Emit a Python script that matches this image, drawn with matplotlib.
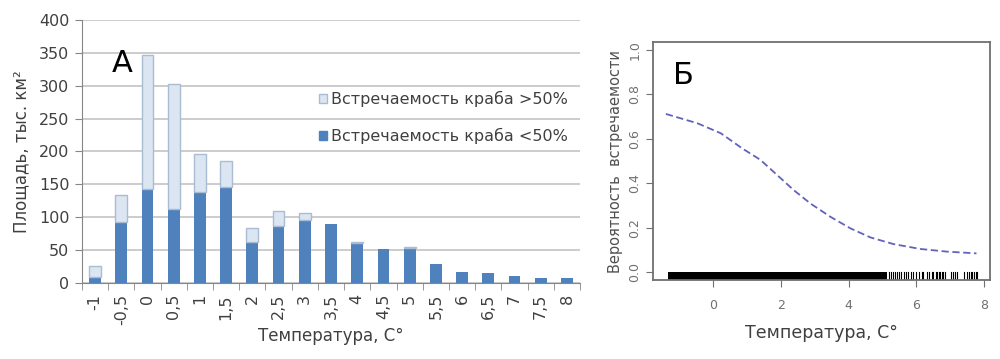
import numpy as np
import matplotlib
matplotlib.use("Agg")
import matplotlib.pyplot as plt
from matplotlib.patches import Patch


# --- panel A: area by temperature, stacked bars ---
temp_labels = ['-1', '-0,5', '0', '0,5', '1', '1,5', '2', '2,5', '3', '3,5',
               '4', '4,5', '5', '5,5', '6', '6,5', '7', '7,5', '8']
area_low = [9, 92, 143, 113, 139, 146, 63, 87, 96, 90,
            60, 52, 53, 29, 17, 15, 11, 7, 8]        # встречаемость < 50%
area_total = [25, 134, 347, 303, 196, 185, 84, 110, 107, 90,
              62, 52, 55, 29, 17, 15, 11, 7, 8]      # обе категории

# --- panel Б: probability curve + rug ---
curve_t = [-1.39, -0.46, 0.23, 0.86, 1.40, 1.89, 2.38, 2.87, 3.46, 4.05,
           4.64, 5.32, 6.11, 6.89, 7.77]
curve_p = [0.712, 0.670, 0.625, 0.557, 0.505, 0.437, 0.369, 0.309, 0.249, 0.197,
           0.156, 0.126, 0.104, 0.092, 0.084]
rug_dense = (-1.32, 5.14)   # сплошная полоса наблюдений
rug_sparse = [5.2, 5.25, 5.3, 5.36, 5.42, 5.5, 5.55, 5.62, 5.7, 5.75, 5.85, 5.9,
              6.0, 6.08, 6.15, 6.2, 6.3, 6.36, 6.45, 6.5, 6.58, 6.62, 6.66, 6.7,
              6.74, 6.78, 6.84, 7.02, 7.08, 7.15, 7.2, 7.4, 7.48, 7.55, 7.6,
              7.65, 7.7, 7.75, 7.8]

dark = '#4F81BD'
light = '#DCE6F2'
light_edge = '#A9BCD3'
axis_gray = '#868686'
text_gray = '#404040'

fig = plt.figure(figsize=(10, 3.59), dpi=100)

# ---------------- A ----------------
ax = fig.add_axes([0.082, 0.212, 0.498, 0.732])
ind = np.arange(len(temp_labels))
upper = [t - l for t, l in zip(area_total, area_low)]
w = 0.45
ax.bar(ind, area_low, w, color=dark, zorder=3)
# no outline on empty upper segments
edges = [light_edge if u > 0 else 'none' for u in upper]
ax.bar(ind, upper, w, bottom=area_low, color=light, edgecolor=edges,
       linewidth=1.0, zorder=3)

ax.set_xlim(-0.5, len(temp_labels) - 0.5)
ax.set_ylim(0, 400)
ax.set_yticks(range(0, 401, 50))
ax.yaxis.grid(True, color='#C4C4C4', linewidth=1.2, zorder=0)
ax.set_axisbelow(True)
for s in ['top', 'right']:
    ax.spines[s].set_visible(False)
ax.spines['left'].set_color(axis_gray)
ax.spines['bottom'].set_color(axis_gray)
ax.set_xticks(ind)
ax.set_xticklabels(temp_labels, rotation=90, fontsize=11.5, color=text_gray)
ax.set_xticks(np.arange(-0.5, len(temp_labels), 1.0), minor=True)
ax.tick_params(axis='x', which='major', length=0, pad=8)
ax.tick_params(axis='x', which='minor', length=5, color=axis_gray)
ax.tick_params(axis='y', length=5, color=axis_gray, labelsize=11.5,
               labelcolor=text_gray, pad=4)
ax.set_ylabel('Площадь, тыс. км²', fontsize=12, color=text_gray, labelpad=6)
ax.set_xlabel('Температура, С°', fontsize=12, color=text_gray, labelpad=1)
ax.text(0.06, 0.835, 'А', transform=ax.transAxes, fontsize=22, va='center')

handles = [Patch(facecolor=light, edgecolor=light_edge),
           Patch(facecolor=dark, edgecolor=dark)]
ax.legend(handles, ['Встречаемость краба >50%', 'Встречаемость краба <50%'],
          loc='center left', bbox_to_anchor=(0.475, 0.63), frameon=False,
          fontsize=11.5, handlelength=0.5, handleheight=0.5,
          handletextpad=0.25, labelspacing=1.3, borderpad=0, borderaxespad=0,
          labelcolor=text_gray)

# ---------------- Б ----------------
bx = fig.add_axes([0.653, 0.22, 0.337, 0.663])
bx.plot(curve_t, curve_p, linestyle=(0, (4, 2)), color='#6262BC', linewidth=1.3)
bx.axvspan(rug_dense[0], rug_dense[1], ymin=0, ymax=0.035, color='black',
           linewidth=0)
for t in rug_sparse:
    bx.axvline(t, ymin=0, ymax=0.035, color='black', linewidth=0.8)
bx.set_xlim(-1.77, 8.17)
bx.set_ylim(-0.036, 1.036)
bx.set_xticks([0, 2, 4, 6, 8])
bx.set_yticks([0.0, 0.2, 0.4, 0.6, 0.8, 1.0])
bx.set_yticklabels(['0.0', '0.2', '0.4', '0.6', '0.8', '1.0'], rotation=90,
                   va='center')
for s in bx.spines.values():
    s.set_color('#707070')
    s.set_linewidth(1.3)
bx.tick_params(length=5, color='#707070', labelsize=9, labelcolor='#707070')
bx.tick_params(axis='x', pad=9)
bx.set_ylabel('Вероятность  встречаемости', fontsize=10.5, color='#505050',
              labelpad=4)
bx.set_xlabel('Температура, С°', fontsize=12.5, color=text_gray, labelpad=8)
bx.text(0.06, 0.86, 'Б', transform=bx.transAxes, fontsize=22, va='center')

fig.savefig('out.png', dpi=100)
